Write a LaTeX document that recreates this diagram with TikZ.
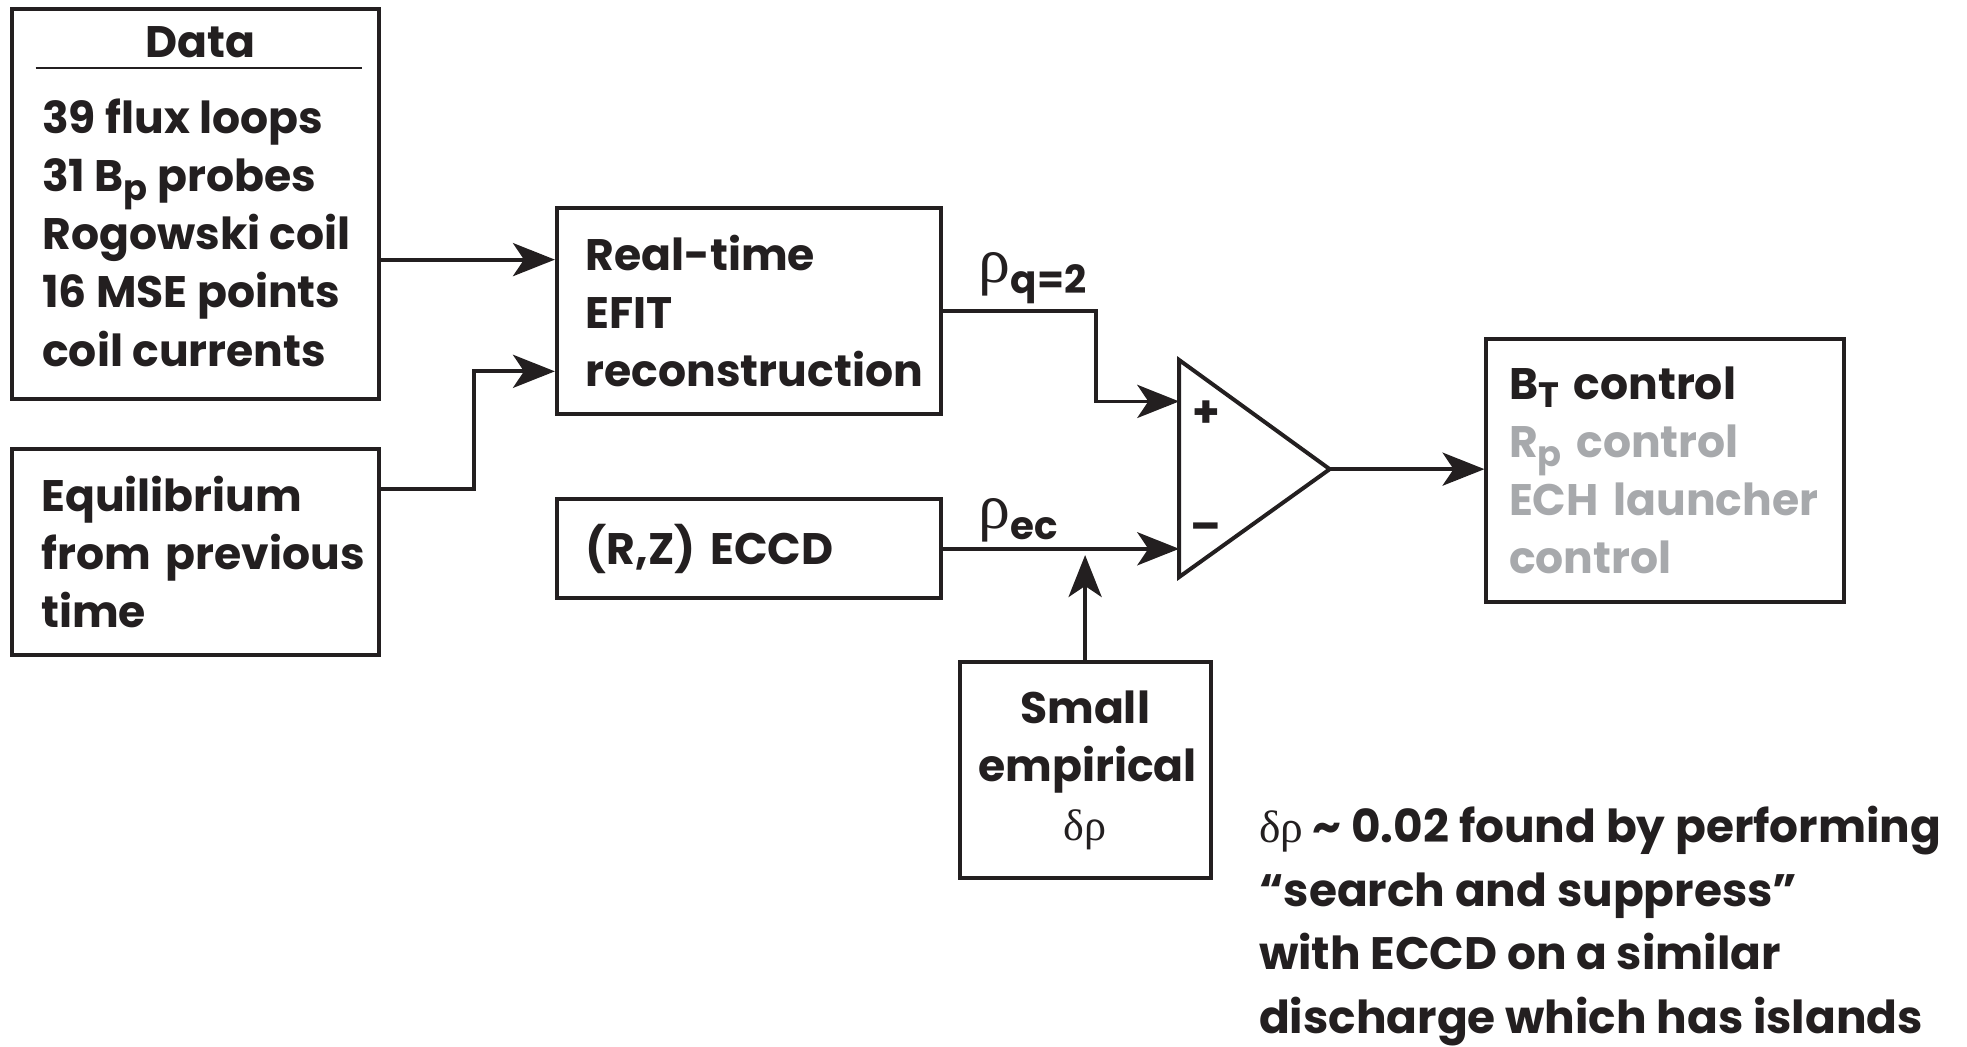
\documentclass[tikz,border=0pt]{standalone}
\usepackage{fontspec}
\setmainfont{Poppins}
\newfontfamily\greekfont{Liberation Serif}
\usetikzlibrary{arrows.meta}

\definecolor{ink}{RGB}{35,31,32}
\definecolor{faded}{RGB}{167,169,172}
\newcommand{\boxfont}{\fontsize{10}{13.2}\selectfont\bfseries}
\newcommand{\lowsub}[1]{\raisebox{-0.35ex}{\fontsize{8}{8}\selectfont #1}}
\newcommand{\rhosub}[1]{{\greekfont\mdseries\fontsize{14.5}{14.5}\selectfont ρ}\raisebox{-0.45ex}{\fontsize{8.8}{8.8}\selectfont #1}}

\tikzset{
  box/.style={draw=ink, line width=0.9pt, inner ysep=0pt, text=ink, font=\boxfont},
  lbl/.style={inner sep=0pt, text=ink, font=\boxfont},
  arr/.style={draw=ink, line width=0.85pt, -{Stealth[length=9.5pt,width=7.5pt,inset=2.5pt]}}
}

\begin{document}
\begin{tikzpicture}[x=0.01cm,y=-0.01cm]
    \useasboundingbox (0,0) rectangle (1568,834);

    % data box
    \node[box, minimum width=2.92cm, minimum height=3.11cm] (data) at (156,162.5) {};
    \node[lbl, anchor=base] (datahead) at (160,46) {Data};
    \draw[ink, line width=0.5pt] ([xshift=0.2cm,yshift=-0.49cm]data.north west) -- ([xshift=-0.15cm,yshift=-0.49cm]data.north east);
    \node[lbl, anchor=north west, align=left] (datalist) at (33,78) {39 flux loops\\31 B\lowsub{p} probes\\Rogowski coil\\16 MSE points\\coil currents};

    % boxes
    \node[box, text width=2.46cm, inner xsep=0.23cm, minimum height=1.64cm, align=left] (equil) at (156,440) {Equilibrium\\\mbox{from previous}\\time};
    \node[box, text width=2.6cm, inner xsep=0.23cm, minimum height=1.64cm, align=left] (efit) at (597,248) {Real-time\\EFIT\\reconstruction};
    \node[box, text width=2.6cm, inner xsep=0.23cm, minimum height=0.79cm, align=left] (eccd) at (597,437.5) {(R,Z) ECCD};
    \node[box, text width=1.7cm, inner xsep=0.15cm, minimum height=1.72cm, align=center] (small) at (865,614) {Small\\empirical\\{\greekfont\mdseries δρ}};
    \node[box, text width=2.49cm, inner xsep=0.18cm, minimum height=2.10cm, align=left] (bt) at (1327.5,375) {B\lowsub{T} control\\\textcolor{faded}{R\lowsub{p} control}\\\textcolor{faded}{ECH launcher}\\\textcolor{faded}{control}};

    % comparator
    \coordinate (sumtop) at (940,287);
    \coordinate (sumout) at (1060,374);
    \coordinate (sumbot) at (940,460);
    \draw[ink, line width=0.9pt] (sumtop) -- (sumout) -- (sumbot) -- cycle;
    \node[lbl] (plus) at (962,330) {+};
    \node[lbl] (minus) at (961,424) {–};

    % connectors
    \coordinate (efitin1) at ([yshift=0.41cm]efit.west);
    \coordinate (efitin2) at ([yshift=-0.48cm]efit.west);
    \coordinate (plusin) at (940,320);
    \coordinate (minusin) at (sumtop |- eccd.east);
    \coordinate (tap) at (small.north |- eccd.east);
    \draw[arr] (data.east |- efitin1) -- (efitin1);
    \draw[arr] ([yshift=0.5cm]equil.east) -- ++(74,0) |- (efitin2);
    \draw[arr] (efit.east) -- ++(122,0) |- (plusin);
    \draw[arr] (eccd.east) -- (minusin);
    \draw[arr] (small.north) -- ([yshift=-0.05cm]tap);
    \draw[arr] (sumout) -- (bt.west |- sumout);

    % signal labels
    \node[lbl, anchor=south west] (rhoq) at ([xshift=0.28cm,yshift=0.05cm]efit.east) {\rhosub{q=2}};
    \node[lbl, anchor=south west] (rhoec) at ([xshift=0.28cm,yshift=0.05cm]eccd.east) {\rhosub{ec}};

    % note
    \node[lbl, anchor=north west, align=left, font=\fontsize{10.3}{14.4}\selectfont\bfseries] (note) at (1003,642) {{\greekfont\mdseries δρ} \textasciitilde{} 0.02 found by performing\\“search and suppress”\\with ECCD on a similar\\discharge which has islands};
\end{tikzpicture}
\end{document}
